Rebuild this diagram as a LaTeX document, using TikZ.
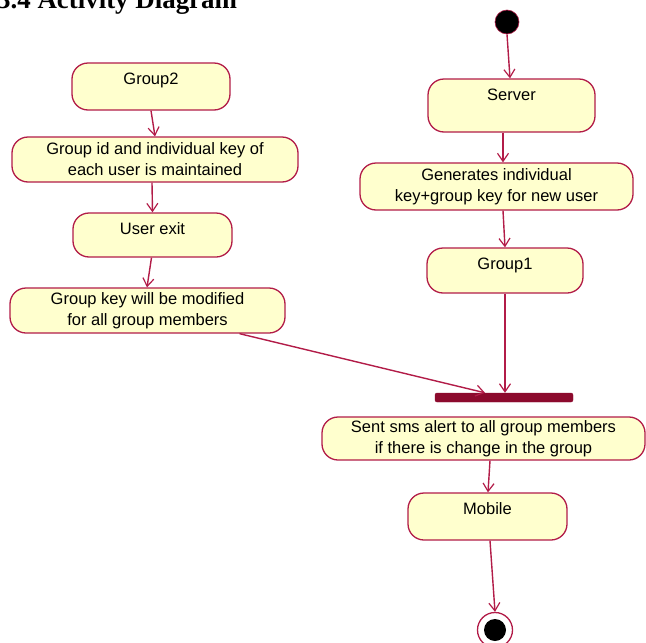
\documentclass[tikz,border=0pt]{standalone}
\usepackage{fontspec}
\setmainfont{Liberation Serif}
\newfontfamily\actsans{Liberation Sans}
\usetikzlibrary{arrows.meta}
\definecolor{crim}{RGB}{178,28,72}
\definecolor{actfill}{RGB}{255,255,206}
\definecolor{barfill}{RGB}{140,10,45}
\begin{document}
\begin{tikzpicture}[x=1pt,y=-1pt,
  act/.style={draw=crim, fill=actfill, line width=1.3pt, rounded corners=16pt,
    inner sep=0pt, align=center, font=\actsans\fontsize{16.5}{21}\selectfont},
  oneline/.style={text height=21pt, text depth=26pt},
  flow/.style={draw=crim, line width=1.4pt, -{Straight Barb[length=8pt,width=11pt,line width=1.2pt]}},
  initial/.style={circle, fill=black, draw=crim, line width=0.6pt, minimum size=24pt, inner sep=0pt},
  final/.style={circle, fill=white, draw=crim, line width=1.3pt, minimum size=35pt, inner sep=0pt,
    path picture={\fill[black] (path picture bounding box.center) circle (11pt);}},
  joinbar/.style={fill=barfill, draw=barfill, rounded corners=2pt, inner sep=0pt}
]
\useasboundingbox (0,0) rectangle (646,643);

% heading
\node[anchor=base west, inner sep=0pt, font=\bfseries\fontsize{26.9}{30}\selectfont] (title) at (-3,8) {3.4 Activity Diagram};

% left column
\node[act, oneline, minimum width=158pt] (g2) at (151,86.5) {Group2};
\node[act, minimum width=286pt, minimum height=45pt] (gid) at (155,159.5) {Group id and individual key of\\each user is maintained};
\node[act, oneline, minimum width=159pt, text depth=23pt] (uexit) at (152.5,235) {User exit};
\node[act, minimum width=275pt, minimum height=45pt] (gkey) at (147.5,310.5) {Group key will be modified\\for all group members};

% right column
\node[initial] (start) at (507,22) {};
\node[act, oneline, minimum width=167pt, text depth=32pt] (server) at (511.5,105.5) {Server};
\node[act, minimum width=273pt, minimum height=47pt] (gen) at (496.5,186.5) {Generates individual\\key+group key for new user};
\node[act, oneline, minimum width=156pt, text depth=24pt] (g1) at (505,270.5) {Group1};

% synchronisation bar
\node[joinbar, minimum width=138pt, minimum height=9pt] (bar) at (504,397.5) {};

% lower part
\node[act, minimum width=323pt, minimum height=43pt] (sent) at (483.5,438.5) {Sent sms alert to all group members\\if there is change in the group};
\node[act, oneline, minimum width=159pt] (mobile) at (487.5,516.5) {Mobile};
\node[final] (stop) at (495,630) {};

% connectors
\draw[flow] (g2.south) -- (gid.north);
\draw[flow] ([xshift=-3pt]gid.south) -- (uexit.north);
\draw[flow] ([xshift=-1pt]uexit.south) -- ([xshift=-0.5pt]gkey.north);
\draw[flow] ([xshift=92pt]gkey.south) -- ([xshift=-19pt]bar.north);

\draw[flow] (start.south) -- ([xshift=-1.5pt]server.north);
\draw[flow] ([xshift=-8.5pt]server.south) -- ([xshift=6.5pt]gen.north);
\draw[flow] ([xshift=6.5pt]gen.south) -- (g1.north);
\draw[flow] (g1.south) -- (g1.south |- bar.north);

\draw[flow] ([xshift=6.5pt]sent.south) -- ([xshift=0.5pt]mobile.north);
\draw[flow] ([xshift=2.5pt]mobile.south) -- (stop.north);
\end{tikzpicture}
\end{document}
